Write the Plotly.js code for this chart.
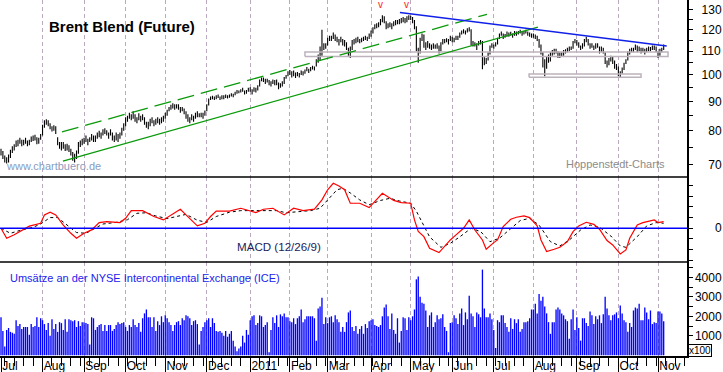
<!DOCTYPE html>
<html><head><meta charset="utf-8">
<script src="https://cdn.plot.ly/plotly-3.0.1.min.js"></script>
<style>html,body{margin:0;padding:0;background:#fff}#chart{width:723px;height:372px}</style>
</head><body><div id="chart"></div>
<script>
// ---- daily price data (USD), trading days from 2010-07-01 ----
const close = [
73.5,72.5,71.5,71.0,71.5,73.5,74.5,75.0,76.5,76.0,77.0,76.0,76.5,77.0,76.0,76.5,77.5,77.5,78.0,76.5,77.0,78.5,
81.0,82.5,83.0,82.0,81.0,80.5,81.0,79.5,76.0,75.5,75.0,75.5,74.5,75.0,74.0,73.0,72.0,71.5,73.0,75.5,76.0,76.5,
77.0,77.5,76.5,77.5,78.0,77.0,77.5,78.5,79.0,78.5,79.5,80.0,79.0,78.5,79.5,78.0,77.5,78.5,77.5,78.5,80.0,81.5,
83.5,84.0,85.0,84.5,85.5,84.0,83.5,85.0,84.0,84.5,83.0,82.0,81.5,83.0,83.5,82.5,83.0,83.5,83.0,83.5,84.0,
85.5,86.5,87.5,88.0,88.5,88.0,88.5,88.0,87.0,87.5,86.5,85.5,84.0,83.5,84.5,84.0,85.0,85.5,85.0,85.5,85.0,86.0,
88.5,90.5,91.0,91.5,91.0,91.5,92.0,91.0,91.5,91.5,92.0,91.5,92.0,92.5,92.0,93.0,93.5,93.5,94.0,94.5,93.0,93.5,94.5,
94.5,93.5,94.5,94.0,95.0,97.5,98.5,98.0,97.5,98.0,97.0,96.5,97.5,97.0,97.5,95.5,96.0,96.5,98.5,99.5,100.5,
101.5,100.0,101.0,99.5,100.5,100.0,101.0,100.5,101.5,102.5,101.5,102.5,103.0,102.5,105.5,106.0,111.0,111.5,112.0,112.5,
115.0,116.0,115.5,117.0,116.0,115.5,114.0,115.5,114.0,113.5,112.0,110.0,108.5,114.0,114.5,115.0,115.5,114.5,115.0,115.5,116.0,115.5,117.0,
118.5,120.0,121.5,122.0,122.5,124.0,126.5,124.0,121.0,122.0,122.5,121.5,123.0,123.5,123.5,124.0,124.5,125.0,124.0,125.5,126.0,
126.0,124.0,121.5,111.0,109.0,115.5,117.0,112.5,112.5,113.5,112.5,111.5,112.5,112.0,112.5,110.0,113.5,115.0,114.5,115.0,114.5,116.5,
115.5,115.0,116.5,116.0,117.5,118.5,119.0,118.5,119.5,120.0,113.0,113.0,113.0,111.5,113.5,114.0,107.5,105.0,106.0,108.5,111.5,112.5,
112.0,113.0,115.5,117.0,118.5,116.0,117.0,118.5,117.5,118.0,117.0,118.5,118.0,118.5,119.0,118.0,118.5,119.0,118.0,117.5,117.0,
117.0,116.5,115.5,112.5,109.5,104.0,103.0,106.5,107.5,108.0,110.0,110.0,110.5,107.5,108.5,108.5,110.0,110.0,111.0,111.5,111.5,114.0,115.0,
114.0,112.5,111.5,112.5,115.0,115.5,113.0,112.5,112.5,111.5,112.5,112.5,110.0,111.0,110.5,105.5,104.5,106.0,107.5,105.5,104.0,103.0,
101.0,100.0,102.5,104.5,106.0,109.5,110.0,111.0,110.5,112.5,111.0,111.5,110.0,111.0,109.5,111.0,111.5,111.0,112.0,111.5,110.5,
108.5,110.0,111.0,112.0];
const high = [
74.5,73.8,72.5,72.0,72.8,74.2,75.2,75.8,77.0,77.2,77.8,77.2,77.2,77.8,77.0,77.2,78.2,78.5,78.8,78.0,77.8,79.0,
82.0,83.5,83.8,83.5,82.5,81.5,81.8,81.5,78.0,76.5,76.5,76.5,75.8,76.0,75.5,74.5,73.5,73.0,74.0,76.5,77.0,77.5,
77.8,78.5,77.5,78.0,79.0,78.5,78.5,79.5,80.0,79.5,80.5,80.8,80.2,79.5,80.5,79.5,78.5,79.5,79.0,79.5,81.0,82.5,
84.5,85.0,86.0,85.5,86.5,85.5,84.5,85.8,85.0,85.5,84.5,83.0,83.0,84.0,84.5,83.5,84.0,84.5,84.0,84.5,85.0,
86.0,87.0,88.0,88.8,89.3,89.0,89.0,89.0,88.0,88.0,87.5,86.5,85.5,84.5,85.5,85.0,86.0,86.5,85.8,86.0,86.0,86.8,
89.0,91.0,91.8,92.0,91.8,92.2,92.5,91.8,92.2,92.2,92.5,92.2,92.5,93.0,92.8,93.5,94.2,94.0,94.5,95.0,94.0,94.2,95.0,
95.2,94.5,95.2,95.0,96.0,98.2,99.0,99.0,98.5,98.5,98.0,97.5,98.2,98.0,98.2,97.0,96.8,97.5,99.2,100.0,101.5,
102.0,101.5,101.8,101.0,101.2,100.8,101.8,101.5,102.2,103.2,102.5,103.2,103.8,103.5,106.5,108.5,112.0,119.8,113.5,113.5,
116.0,117.0,117.0,118.5,117.5,116.5,115.5,116.5,115.5,115.0,114.0,111.5,112.0,115.0,115.5,116.0,116.5,115.5,116.0,116.5,117.0,116.5,118.0,
119.5,121.0,122.5,123.0,123.5,125.0,127.0,126.5,124.0,123.0,123.5,123.0,124.0,124.5,124.5,125.0,125.5,126.0,125.5,126.5,127.0,
126.7,126.0,124.5,121.5,111.5,116.0,118.0,117.5,114.0,114.5,113.5,113.0,113.5,113.0,113.5,112.5,114.0,115.5,115.5,115.8,115.5,117.0,
116.5,116.0,117.0,117.0,118.5,119.5,120.0,119.5,120.5,121.0,120.0,114.5,114.0,113.5,114.5,115.0,114.5,107.5,107.0,109.5,112.5,113.5,
113.0,114.0,116.0,118.0,119.0,118.0,117.8,119.0,118.5,118.8,118.0,119.2,119.0,119.2,119.8,119.0,119.2,119.8,119.0,118.5,118.0,
118.0,117.5,117.0,115.5,113.0,109.5,106.5,107.5,108.5,109.5,110.5,111.0,111.0,110.0,109.5,109.5,110.5,110.8,111.5,112.0,112.0,114.5,115.5,
115.0,114.0,112.5,113.5,115.5,116.5,115.5,113.5,113.5,112.5,113.5,113.5,112.0,112.0,111.5,109.5,106.0,107.0,108.0,107.5,106.0,104.5,
103.5,101.5,103.0,105.0,106.5,110.0,111.0,111.5,111.5,113.0,112.5,112.0,111.5,111.5,111.0,111.5,112.0,111.8,112.5,112.5,112.0,
110.0,111.0,111.5,113.0];
const low = [
72.5,71.5,70.5,70.2,70.5,71.8,73.2,74.0,75.0,75.2,76.0,75.2,75.5,76.0,75.2,75.5,76.5,76.8,77.0,75.8,76.0,77.2,
78.5,81.0,82.0,81.5,80.5,79.8,80.0,79.0,75.5,74.5,74.0,74.5,73.8,74.0,73.5,72.5,71.0,70.5,71.5,73.0,75.0,75.5,
76.0,76.5,75.5,76.5,77.0,76.5,76.5,77.5,78.0,77.5,78.5,79.0,78.5,77.5,78.5,77.0,76.5,77.0,76.5,77.5,78.5,80.0,
81.5,83.0,84.0,83.5,84.0,83.0,82.5,83.5,83.0,83.5,82.0,81.0,80.5,81.5,82.5,81.5,82.0,82.5,82.0,82.5,83.0,
84.0,85.0,86.5,87.0,87.5,87.0,87.5,87.0,86.0,86.5,85.5,84.0,83.0,82.5,83.5,83.0,84.0,84.5,84.5,84.5,84.0,85.0,
86.5,88.5,90.5,90.8,90.5,90.8,91.2,90.5,90.8,90.8,91.2,91.0,91.3,91.8,91.5,92.2,92.8,93.0,93.2,93.5,92.5,92.8,93.5,
93.5,92.5,93.5,93.2,94.0,95.5,97.5,97.2,96.5,97.0,96.0,95.5,96.5,96.0,96.0,94.5,95.0,95.5,96.5,98.5,99.5,
100.0,99.0,99.5,98.8,99.5,99.0,100.0,99.8,100.5,101.5,100.8,101.5,102.2,101.8,103.5,105.0,106.0,108.0,110.5,111.0,
112.5,114.5,114.5,115.5,114.5,114.0,112.5,114.0,112.5,112.0,110.5,108.0,107.0,110.5,113.0,113.5,114.0,113.5,114.0,114.5,115.0,114.5,115.5,
116.5,118.0,120.0,120.5,121.0,122.0,123.5,123.0,120.0,120.5,121.0,120.0,121.5,122.0,122.5,122.5,123.0,123.5,123.0,123.5,124.5,
124.5,123.0,120.0,110.0,105.0,109.0,114.5,111.5,110.5,111.5,111.0,110.5,111.0,111.0,111.0,109.0,110.0,113.0,113.5,114.0,113.0,114.5,
114.0,114.0,115.0,115.0,116.0,117.5,118.0,117.5,118.5,119.0,112.5,112.0,112.0,110.5,112.5,113.0,102.3,104.0,104.5,106.0,108.5,111.5,
111.0,112.0,113.0,115.5,117.0,115.5,116.0,116.5,116.5,117.0,116.0,117.0,117.0,117.5,118.0,117.0,117.5,118.0,117.0,116.5,116.0,
116.0,115.5,114.5,111.5,108.5,103.0,99.5,102.5,105.0,105.5,108.0,108.5,109.0,107.0,107.0,107.5,108.0,109.0,109.5,110.0,110.5,111.0,113.5,
112.5,111.5,110.5,111.0,112.0,114.0,112.5,111.0,111.5,110.5,111.0,111.5,109.0,109.5,109.0,104.5,103.0,104.0,105.5,104.5,102.5,102.0,
99.5,99.0,100.5,102.0,104.5,106.0,108.5,109.5,109.5,110.5,109.5,110.0,109.0,109.5,108.5,109.5,110.0,110.0,110.5,110.5,109.5,
107.0,108.0,109.5,110.5];
// ---- daily volume (x100 contracts) ----
const volume = [
1950,1250,450,1300,1400,1200,1150,1100,1800,1500,1600,1350,1450,1450,1450,1050,1600,1450,1500,1950,1450,1900,
1800,1600,1300,1650,1000,1850,1350,1600,1200,1700,1650,1300,1850,1200,1850,1800,1750,1800,1450,1750,1500,1700,
1700,1650,1600,550,1950,1900,1300,1450,1550,1600,1250,1550,1250,1550,1550,1250,1350,1550,1700,1600,1650,1700,
1450,1250,1550,1450,1850,1550,1450,1650,1200,1900,2150,2350,1950,1950,1450,1950,1250,1750,1550,2000,1700,
2050,1900,1700,1550,1250,1550,1700,1750,1550,1900,1800,2050,2000,1900,1550,1750,1800,1600,550,1250,1450,1700,
1800,1900,1450,1900,1650,1250,1200,1250,1150,1000,1250,950,1100,1250,750,450,200,350,450,1000,650,1300,1050,
1800,2000,2050,1550,1650,2050,2000,1450,1550,1700,150,1300,1950,1650,2050,1450,2100,2000,2150,1950,1950,
1750,1700,1900,1600,1900,2000,2350,1700,1850,2000,2000,2000,2000,1900,750,2400,2500,2950,1600,1950,
1650,1950,2000,1700,2050,1850,1700,1200,1450,1200,1700,2200,2300,1450,1250,1500,1100,1350,1500,1100,1600,1400,1750,
1800,1850,1550,1500,1450,1550,2000,2450,2600,2000,1350,2150,1300,1100,1900,650,1250,1950,1900,1300,1950,
1800,2000,2350,3900,4050,3000,2700,2650,2300,1450,2050,2200,1450,1700,2050,1850,1900,2100,1450,1250,150,1650,
1700,2050,1900,1600,2150,2400,1550,2200,1850,3050,2150,2000,1450,2200,2100,1950,4400,2400,1950,1950,2150,1850,
1300,370,1800,1700,2050,2050,1650,1450,1200,1900,1350,1850,1650,1850,1200,1350,1700,1700,1750,1900,2350,
2350,2650,2150,3150,2800,3000,2500,2150,1700,1100,1700,1700,2350,2450,2350,2150,2050,1850,1750,850,1850,2350,1300,
1950,1400,750,1900,1900,1650,1500,2250,2050,1600,2000,1850,2050,1650,2100,3000,2400,2050,1800,2050,2100,2200,
1900,2550,2150,1800,1700,1200,1650,1450,2300,2450,2400,2650,1800,1800,2450,2200,1850,2300,1600,1700,1650,
2250,2250,2150,1750];
// ---- MACD (12/26/9): trading-day index and value ----
const macdDays = [0,3,7,10,15,21,23,26,29,33,37,40,44,48,52,56,60,63,66,69,75,81,86,90,95,98,104,108,111,114,121,127,131,135,139,144,150,155,160,166,170,173,176,179,182,185,190,195,202,205,208,212,217,219,221,224,227,232,234,238,241,245,248,251,255,257,261,263,266,270,273,277,280,284,286,289,293,296,300,303,306,310,314,317,321,324,328,331,333,337,340,344,346,348,351];
const macdValues = [0,-0.93,-0.6,-0.3,0.2,0.47,1.25,1.5,1.25,0.3,-0.47,-0.93,-0.47,-0.15,0.53,0.62,0.53,0.53,0.93,1.65,1.65,1.1,0.78,1.25,1.78,1.25,0.22,0.47,1.1,1.6,1.6,1.87,1.65,1.46,1.78,1.87,1.25,1.87,1.65,1.78,2.65,3.6,4.2,3.95,3.6,2.34,2.34,1.93,3.27,2.96,2.6,2.4,2.34,0.78,-0.3,-0.78,-1.87,-2.27,-1.87,-1.09,-0.62,0,0.78,-0.16,-1.09,-1.96,-1.34,-1.09,0.16,0.84,1.03,1.15,1.0,0.22,-1.09,-2.18,-1.96,-1.78,-1.25,-0.31,0.22,0.56,0.37,-0.09,-1.15,-1.56,-2.4,-2.02,-0.93,0.31,0.53,0.72,0.78,0.53,0.62];
const signalDays = [0,5,10,17,21,26,30,35,40,45,49,54,61,67,72,77,82,88,93,98,104,109,114,121,127,134,141,146,151,157,164,169,173,178,181,185,190,195,201,206,211,217,220,224,227,233,238,243,249,254,259,264,270,275,280,285,291,296,301,307,312,317,323,328,331,337,342,347,351];
const signalValues = [0,-0.47,-0.2,0.09,0.4,1.0,1.0,0.3,-0.4,-0.47,-0.1,0.4,0.55,0.8,1.4,1.45,1.15,0.9,1.1,1.3,0.75,0.55,1.1,1.5,1.65,1.65,1.65,1.65,1.45,1.56,1.65,1.87,2.6,3.6,3.74,3.3,2.65,2.2,2.6,2.8,2.55,2.34,1.6,0.2,-0.8,-1.78,-1.4,-0.8,0,-0.3,-1.25,-0.93,0,0.72,0.93,0.3,-1.25,-1.65,-1.1,-0.16,0.31,0.1,-0.72,-1.65,-1.78,-0.78,0.22,0.53,0.47];
// ---- trend lines & zones (trading-day index, price) ----
const supportDays = [32.8, 284.4], supportPrices = [70.9, 121.1];
const channelDays = [32.3, 257.4], channelPrices = [79.7, 127.4];
const resistDays = [211.3, 352.6], resistPrices = [128.4, 112.3];
const zoneUpperDays = [161, 353.3], zoneUpperPrices = [107.7, 109.6];
const zoneLowerDays = [279.7, 339], zoneLowerPrices = [99.1, 100.4];
const topDays = [201, 215];
// ---- axis ticks (first trading day of each month) ----
const monthTicks = ['2010-07-01','2010-08-02','2010-09-01','2010-10-01','2010-11-01','2010-12-01','2011-01-03','2011-02-01','2011-03-01','2011-04-01','2011-05-02','2011-06-01','2011-07-01','2011-08-01','2011-09-01','2011-10-03','2011-11-01'];
const monthLabels = ['Jul','Aug','Sep','Oct','Nov','Dec','2011','Feb','Mar','Apr','May','Jun','Jul','Aug','Sep','Oct','Nov'];
const priceTicks = [70,80,90,100,110,120,130];
const priceMinor = [75,85,95,105,115,125];
const volTicks = [1000,2000,3000,4000];

const FS = '\u2007';
function pad(s){ s = String(s); while (s.length < 4) s = FS + s; return s; }

function tradingDay(i){
  const n = Math.floor(i), frac = i - n;
  const d = new Date(Date.UTC(2010,5,30));
  let k = -1;
  while (k < n){ d.setUTCDate(d.getUTCDate()+1); const w = d.getUTCDay(); if (w!==0 && w!==6) k++; }
  const t = new Date(d.getTime() + frac*86400000);
  return t.toISOString().slice(0,19).replace('T',' ');
}
const days = close.map((_, i) => tradingDay(i));
const rect = (ds, ps) => ({x:[ds[0],ds[1],ds[1],ds[0],ds[0]].map(tradingDay), y:[ps[0],ps[0],ps[1],ps[1],ps[0]]});

const H = 356, W = 687;
const dPrice = [1-177/H, 1], dMacd = [1-262/H, 1-177/H], dVol = [0, 1-262/H];

const zu = rect(zoneUpperDays, zoneUpperPrices), zl = rect(zoneLowerDays, zoneLowerPrices);
const traces = [
  {type:'scatter', mode:'lines', x:zu.x, y:zu.y, xaxis:'x', yaxis:'y', line:{color:'#bcb2bc', width:1.5}, hoverinfo:'skip'},
  {type:'scatter', mode:'lines', x:zl.x, y:zl.y, xaxis:'x', yaxis:'y', line:{color:'#bcb2bc', width:1.5}, hoverinfo:'skip'},
  {type:'scatter', mode:'lines', x:supportDays.map(tradingDay), y:supportPrices, xaxis:'x', yaxis:'y', line:{color:'#0a9a0a', width:1.3}},
  {type:'scatter', mode:'lines', x:channelDays.map(tradingDay), y:channelPrices, xaxis:'x', yaxis:'y', line:{color:'#0a9a0a', width:1.3, dash:'17px,7px'}},
  {type:'scatter', mode:'lines', x:resistDays.map(tradingDay), y:resistPrices, xaxis:'x', yaxis:'y', line:{color:'#1020e8', width:1.5}},
  {type:'ohlc', x:days, open:close, high:high, low:low, close:close, xaxis:'x', yaxis:'y', tickwidth:0.25,
   increasing:{line:{color:'#000', width:1.1}}, decreasing:{line:{color:'#000', width:1.1}}},
  {type:'scatter', mode:'lines', x:signalDays.map(tradingDay), y:signalValues, xaxis:'x', yaxis:'y2', line:{color:'#000', width:1, dash:'3px,3px'}},
  {type:'scatter', mode:'lines', x:macdDays.map(tradingDay), y:macdValues, xaxis:'x', yaxis:'y2', line:{color:'#ff0000', width:1.2}},
  {type:'bar', x:days, y:volume, xaxis:'x', yaxis:'y3', marker:{color:'#0000ff', line:{width:0}}}
];

const yCommon = {side:'right', anchor:'x', showgrid:false, zeroline:false, showline:true, linecolor:'#000', linewidth:1.5,
  ticks:'outside', ticklen:4, tickcolor:'#000', tickfont:{size:12, color:'#000'}, fixedrange:true};

const layout = {
  width:723, height:372, margin:{l:0, r:36, t:0, b:16}, paper_bgcolor:'#fff', plot_bgcolor:'#fff', showlegend:false,
  font:{family:'"Liberation Sans", Arial, sans-serif', size:12, color:'#000'}, bargap:0.3,
  xaxis:{type:'date', anchor:'y3', range:[tradingDay(-0.53), tradingDay(363.35)], rangebreaks:[{bounds:['sat','mon']}],
    rangeslider:{visible:false}, tickvals:monthTicks, ticktext:monthLabels, ticks:'outside', ticklen:16, tickcolor:'#000', tickwidth:1,
    ticklabelposition:'outside right', ticklabelstandoff:-2, tickfont:{size:12, color:'#000'},
    showgrid:true, gridcolor:'#b9a9bf', griddash:'4px,3px', gridwidth:1,
    minor:{dtick:604800000, tick0:'2010-07-05', ticks:'outside', ticklen:8, tickcolor:'#000', showgrid:false},
    showline:true, linecolor:'#000', linewidth:1.5, zeroline:false, fixedrange:true},
  yaxis:Object.assign({}, yCommon, {domain:dPrice, type:'log', range:[1.82307, 2.13007], tickvals:priceTicks, ticktext:priceTicks.map(pad),
    minor:{tickvals:priceMinor, ticks:'outside', ticklen:4, tickcolor:'#000'}}),
  yaxis2:Object.assign({}, yCommon, {domain:dMacd, range:[-3.15, 4.79], tickvals:[0], ticktext:[pad(0)],
    minor:{dtick:1, tick0:0, ticks:'outside', ticklen:4, tickcolor:'#000'}}),
  yaxis3:Object.assign({}, yCommon, {domain:dVol, range:[-40, 4790], tickvals:volTicks, ticktext:volTicks.map(pad),
    minor:{dtick:500, tick0:0, ticks:'outside', ticklen:4, tickcolor:'#000'}}),
  shapes:[
    {type:'line', xref:'paper', yref:'paper', x0:0, x1:1, y0:dMacd[1], y1:dMacd[1], line:{color:'#000', width:1.6}},
    {type:'line', xref:'paper', yref:'paper', x0:0, x1:1, y0:dVol[1], y1:dVol[1], line:{color:'#000', width:1.6}},
    {type:'line', xref:'paper', yref:'y2', x0:0, x1:1, y0:0, y1:0, line:{color:'#0000ff', width:1.5}}
  ],
  annotations:[
    {xref:'paper', yref:'paper', x:121.5/W, y:1-26.5/H, text:'<b>Brent Blend (Future)</b>', showarrow:false, xanchor:'center', yanchor:'middle', font:{size:15, color:'#000'}},
    {xref:'paper', yref:'paper', x:53.5/W, y:1-166/H, text:'www.chartbuero.de', showarrow:false, xanchor:'center', yanchor:'middle', font:{size:11, color:'#8a9cc0'}},
    {xref:'paper', yref:'paper', x:615.5/W, y:1-163.5/H, text:'Hoppenstedt-Charts', showarrow:false, xanchor:'center', yanchor:'middle', font:{size:11, color:'#8c8c8c'}},
    {xref:'paper', yref:'paper', x:279/W, y:1-246/H, text:'MACD (12/26/9)', showarrow:false, xanchor:'center', yanchor:'middle', font:{size:11.6, color:'#1c1c58'}},
    {xref:'paper', yref:'paper', x:145/W, y:1-277.5/H, text:'Umsätze an der NYSE Intercontinental Exchange (ICE)', showarrow:false, xanchor:'center', yanchor:'middle', font:{size:11, color:'#2222ee'}},
    {xref:'paper', yref:'paper', x:699.5/W, y:1-350.5/H, text:'x100', showarrow:false, xanchor:'center', yanchor:'middle', font:{size:10, color:'#000'}, bordercolor:'#000', borderwidth:1, borderpad:0, bgcolor:'#fff'}
  ].concat(topDays.map(d => ({xref:'x', yref:'paper', x:tradingDay(d), y:1-4.5/H, text:'v', showarrow:false, xanchor:'center', yanchor:'middle', font:{size:10, color:'#ff2020'}})))
};

Plotly.newPlot('chart', traces, layout, {displayModeBar:false, staticPlot:true});
</script></body></html>
